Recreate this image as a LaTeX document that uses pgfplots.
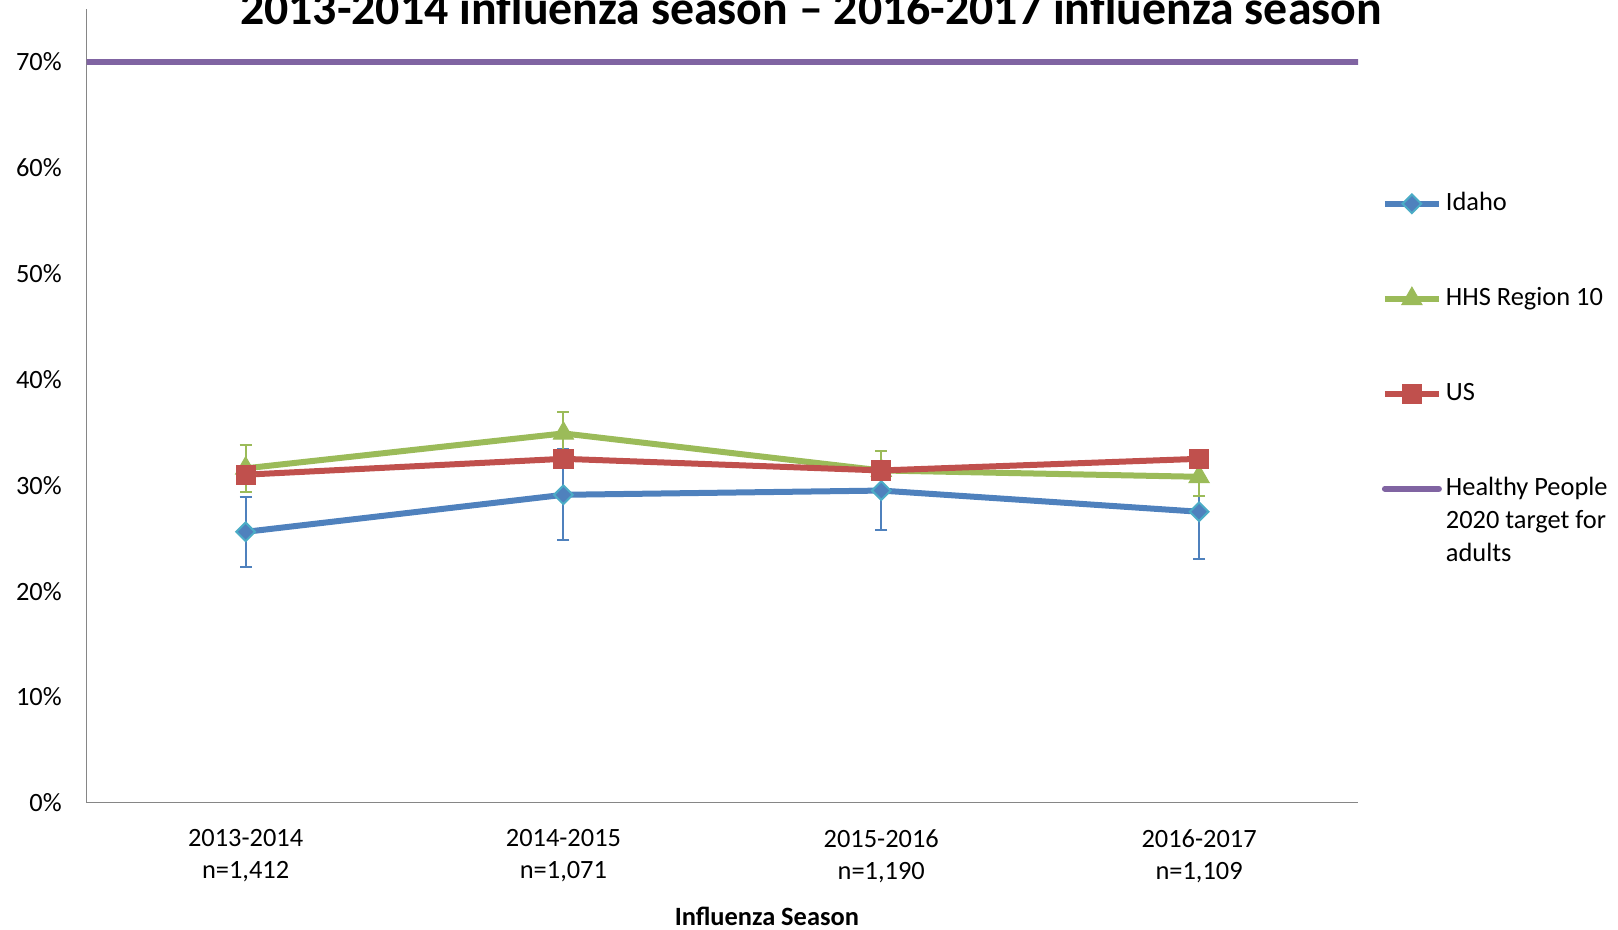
\documentclass[border=0pt]{standalone}
\usepackage{pgfplots}
\pgfplotsset{compat=1.18}
\usepackage{fontspec}
\setmainfont{Carlito}
\definecolor{idaho}{HTML}{4F81BD}
\definecolor{idahoedge}{HTML}{4BACC6}
\definecolor{hhs}{HTML}{9BBB59}
\definecolor{us}{HTML}{C0504D}
\definecolor{hp}{HTML}{8064A2}
\definecolor{axisgray}{HTML}{868686}
\pgfplotstableread{
x y ep em
0 25.6 3.3 3.3
1 29.1 4.3 4.3
2 29.5 3.7 3.7
3 27.5 4.5 4.5
}\idahotab
\pgfplotstableread{
x y ep em
0 31.6 2.2 2.2
1 34.9 2.0 2.0
2 31.4 1.8 1.8
3 30.8 1.8 1.8
}\hhstab
\pgfplotstableread{
x y
0 31.0
1 32.5
2 31.4
3 32.5
}\ustab
\begin{document}
\begin{tikzpicture}
\clip (-43.35pt,-63.6pt) rectangle (765.65pt,401.4pt);
\begin{axis}[
  at={(0pt,0pt)}, anchor=south west,
  scale only axis, width=635.65pt, height=396.9pt,
  xmin=-0.5, xmax=3.5, ymin=0, ymax=75,
  axis x line*=bottom, axis y line*=left,
  x axis line style={-}, y axis line style={-},
  axis line style={draw=axisgray, line width=0.6pt},
  xtick={0,1,2,3},
  xticklabels={{2013-2014\\n=1,412},{2014-2015\\n=1,071},{2015-2016\\n=1,190},{2016-2017\\n=1,109}},
  ytick={0,10,...,70},
  yticklabels={0\%,10\%,20\%,30\%,40\%,50\%,60\%,70\%},
  major tick length=0pt,
  tick label style={font=\fontsize{13.2}{16}\selectfont},
  xticklabel style={align=center, anchor=north, inner sep=0pt, yshift=-13pt},
  yticklabel style={anchor=east, inner sep=0pt, xshift=-12.3pt},
  xlabel={Influenza Season},
  xlabel style={at={(axis description cs:0.535,0)}, anchor=center, yshift=-56.6pt, font=\bfseries\fontsize{13.2}{16}\selectfont},
  title={2013-2014 influenza season – 2016-2017 influenza season},
  title style={at={(axis description cs:0.5697,0.9824)}, anchor=base, yshift=-6.7pt, font=\bfseries\fontsize{23.9}{28}\selectfont},
  legend image code/.code={\draw[mark repeat=2, mark phase=2] plot coordinates {(0pt,0pt) (13.5pt,0pt) (27pt,0pt)};},
  legend cell align=left,
  legend style={at={(axis description cs:1.0185,0.7715)}, anchor=north west, draw=none, fill=none,
    inner sep=0pt, row sep=34.5pt, column sep=2pt,
    nodes={inner sep=0pt, font=\fontsize{13.2}{16.5}\selectfont, text height=10pt, text depth=3pt}},
]
\addplot[idaho, line width=3pt, mark=square*, mark size=3.3pt,
  mark options={rotate=45, fill=idaho, draw=idahoedge, line width=1pt},
  error bars/.cd, y dir=both, y explicit,
  error bar style={line width=1pt, idaho},
  error mark options={rotate=90, mark size=3pt, line width=1pt, idaho}]
  table[x=x, y=y, y error plus=ep, y error minus=em] {\idahotab};
\addlegendentry{Idaho}
\addplot[hhs, line width=3pt, mark=triangle*, mark size=5.8pt,
  mark options={fill=hhs, draw=hhs, line width=0.5pt},
  error bars/.cd, y dir=both, y explicit,
  error bar style={line width=1pt, hhs},
  error mark options={rotate=90, mark size=3pt, line width=1pt, hhs}]
  table[x=x, y=y, y error plus=ep, y error minus=em] {\hhstab};
\addlegendentry{HHS Region 10}
\addplot[us, line width=3pt, mark=square*, mark size=4.8pt,
  mark options={fill=us, draw=us, line width=0.5pt}]
  table[x=x, y=y] {\ustab};
\addlegendentry{US}
\addplot[hp, line width=3pt, line cap=round] coordinates {(-0.5,70) (3.5,70)};
\addlegendentry{\begin{tabular}[t]{@{}l@{}}Healthy People\\2020 target for\\adults\end{tabular}}
\end{axis}
\end{tikzpicture}
\end{document}
